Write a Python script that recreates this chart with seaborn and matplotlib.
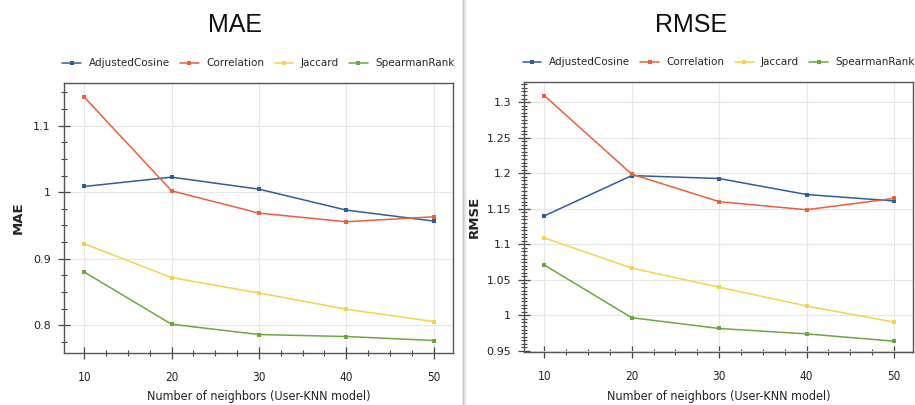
import matplotlib
matplotlib.use("Agg")

import matplotlib.pyplot as plt
from matplotlib.ticker import MultipleLocator, FuncFormatter
import seaborn as sns
import pandas as pd

# values
neighbors = [10, 20, 30, 40, 50]
measures = ["AdjustedCosine", "Correlation", "Jaccard", "SpearmanRank"]

mae_adjusted_cosine = [1.0085, 1.0225, 1.0045, 0.973, 0.9565]
mae_correlation = [1.143, 1.002, 0.9685, 0.9555, 0.963]
mae_jaccard = [0.9225, 0.8715, 0.8485, 0.824, 0.8055]
mae_spearman = [0.880, 0.8015, 0.786, 0.783, 0.777]

rmse_adjusted_cosine = [1.140, 1.1967, 1.1925, 1.170, 1.161]
rmse_correlation = [1.309, 1.1986, 1.160, 1.1486, 1.1646]
rmse_jaccard = [1.109, 1.0665, 1.0396, 1.0132, 0.9906]
rmse_spearman = [1.0708, 0.9967, 0.9816, 0.974, 0.9637]

PALETTE = {
    "AdjustedCosine": "#2f5d9c",
    "Correlation": "#e9603a",
    "Jaccard": "#f4d250",
    "SpearmanRank": "#6aa83d",
}

sns.set_theme(style="white")
plt.rcParams["font.family"] = ["DejaVu Sans"]


def to_long(series_list, metric):
    rows = []
    for name, values in zip(measures, series_list):
        for k, v in zip(neighbors, values):
            rows.append({"neighbors": k, "measure": name, metric: v})
    return pd.DataFrame(rows)


mae_df = to_long([mae_adjusted_cosine, mae_correlation, mae_jaccard, mae_spearman], "MAE")
rmse_df = to_long([rmse_adjusted_cosine, rmse_correlation, rmse_jaccard, rmse_spearman], "RMSE")

fig = plt.figure(figsize=(9.15, 4.05), dpi=100)
ax_left = fig.add_axes([0.070, 0.128, 0.425, 0.667])
ax_right = fig.add_axes([0.573, 0.130, 0.425, 0.667])


def plain_fmt(v, _):
    return f"{v:.2f}".rstrip("0").rstrip(".")


def style_panel(ax, df, metric, ylim, major, minor, title, title_x, ypad):
    sns.lineplot(
        data=df, x="neighbors", y=metric, hue="measure", hue_order=measures,
        palette=PALETTE, marker="s", markersize=3, markeredgewidth=0,
        linewidth=1.1, ax=ax,
    )
    ax.set_xlim(7.7, 52.2)
    ax.set_ylim(*ylim)
    ax.xaxis.set_major_locator(MultipleLocator(10))
    ax.xaxis.set_minor_locator(MultipleLocator(2.5))
    ax.yaxis.set_major_locator(MultipleLocator(major))
    ax.yaxis.set_minor_locator(MultipleLocator(minor))
    ax.yaxis.set_major_formatter(FuncFormatter(plain_fmt))
    ax.grid(True, which="major", color="#e6e6e6", linewidth=0.8)
    ax.set_axisbelow(True)
    for spine in ax.spines.values():
        spine.set_color("#555555")
        spine.set_linewidth(1.0)
    ax.tick_params(axis="both", which="both", bottom=True, left=True,
                   top=False, right=False)
    ax.tick_params(axis="both", which="major", direction="inout", length=9,
                   width=0.9, color="#444444", labelsize=8, labelcolor="#222222")
    ax.tick_params(axis="both", which="minor", direction="inout", length=5,
                   width=0.8, color="#444444")
    ax.tick_params(axis="x", which="major", pad=8)
    ax.tick_params(axis="y", which="major", pad=5)
    for lbl in ax.get_xticklabels():
        lbl.set_family("DejaVu Sans")
        lbl.set_stretch("condensed")
        lbl.set_fontsize(8.5)
    ax.set_xlabel("Number of neighbors (User-KNN model)", fontsize=9,
                  family="DejaVu Sans", stretch="condensed", labelpad=5,
                  color="#222222")
    ax.set_ylabel(metric, fontsize=9.5, fontweight="semibold", labelpad=ypad,
                  color="#222222")
    handles, labels = ax.get_legend_handles_labels()
    ax.legend(handles, labels, loc="lower center", bbox_to_anchor=(0.5, 1.055),
              ncol=4, frameon=False, fontsize=7.5, handlelength=1.8,
              columnspacing=1.0, handletextpad=0.7, borderaxespad=0,
              borderpad=0)
    fig.text(title_x, 0.938, title, ha="center", va="center", fontsize=18,
             family=["Liberation Sans", "DejaVu Sans"], color="#111111")


style_panel(ax_left, mae_df, "MAE", (0.758, 1.164), 0.1, 0.025, "MAE", 0.257, 6)
style_panel(ax_right, rmse_df, "RMSE", (0.948, 1.328), 0.05, 0.005, "RMSE", 0.755, 4)

# faint divider between the two screenshots
for i, alpha in enumerate([0.35, 0.22, 0.14, 0.08, 0.04]):
    fig.add_artist(plt.Line2D([(463 + i) / 915] * 2, [0, 1], color="#888888",
                              alpha=alpha, linewidth=1.2, transform=fig.transFigure))

fig.savefig("out.png", dpi=100)
plt.close(fig)
